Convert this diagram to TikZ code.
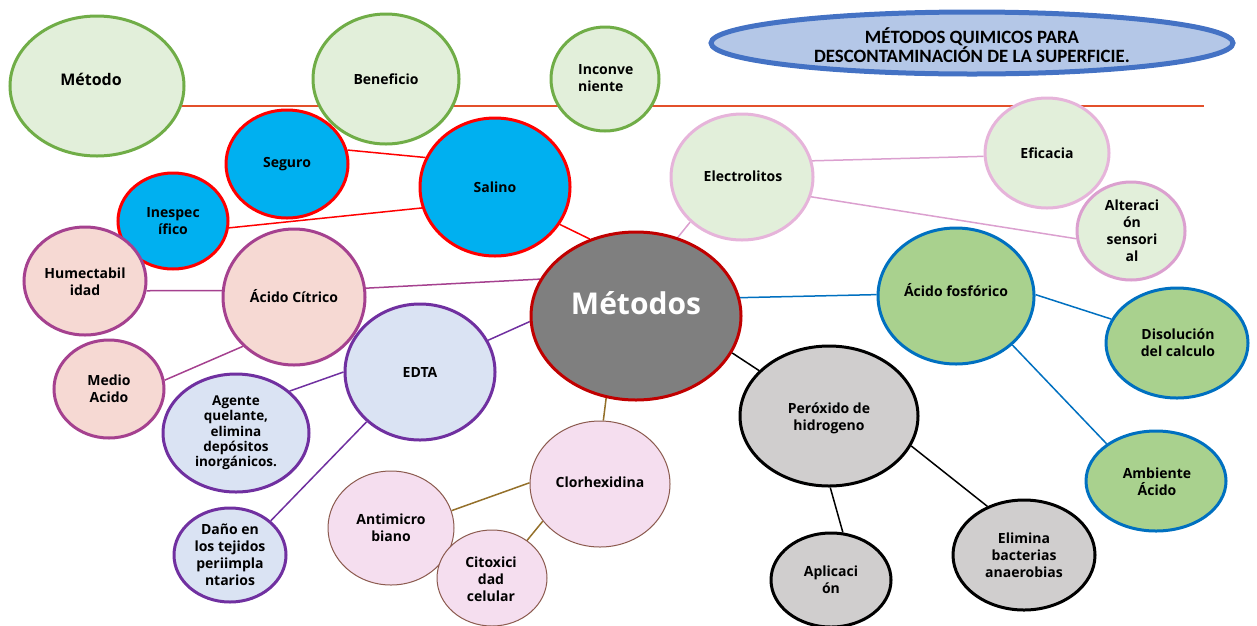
\documentclass[tikz,border=0pt]{standalone}
\usepackage{fontspec}
\setmainfont{Open Sans}
\newfontfamily\titlefont{Carlito}
\newfontfamily\bigfont{Open Sans}
\usetikzlibrary{shapes.geometric}
\pgfdeclarelayer{background}
\pgfsetlayers{background,main}
\definecolor{gfill}{HTML}{E2EFDA}
\definecolor{gline}{HTML}{70AD47}
\definecolor{bfill}{HTML}{00B0F0}
\definecolor{rline}{HTML}{FF0000}
\definecolor{pfill}{HTML}{F6D9D3}
\definecolor{pline}{HTML}{A5418F}
\definecolor{efill}{HTML}{DAE3F3}
\definecolor{eline}{HTML}{7030A0}
\definecolor{cfill}{HTML}{F5DEEF}
\definecolor{cline}{HTML}{8B5A4E}
\definecolor{cconn}{HTML}{94702A}
\definecolor{lpink}{HTML}{E6B4DA}
\definecolor{lpink2}{HTML}{DBA0CF}
\definecolor{ffill}{HTML}{A9D18E}
\definecolor{fline}{HTML}{0070C0}
\definecolor{hfill}{HTML}{D0CECE}
\definecolor{mfill}{HTML}{7F7F7F}
\definecolor{mline}{HTML}{C00000}
\definecolor{tfill}{HTML}{B4C7E7}
\definecolor{tline}{HTML}{4472C4}
\definecolor{orline}{HTML}{E3502B}
\tikzset{
  bub/.style={ellipse, inner sep=0pt, line width=3pt},
  txt/.style={font=\fontsize{14}{17}\selectfont\bfseries, align=center, inner sep=0pt},
  conn/.style={line width=1.5pt},
}
\newcommand{\bubble}[7]{% name, x, y, rx, ry, fill, draw options
  \node[bub, fill=#6, #7, minimum width=#4*2pt, minimum height=#5*2pt] (#1) at (#2,#3) {};}
\begin{document}
\begin{tikzpicture}[x=1pt,y=-1pt]
\useasboundingbox (0,0) rectangle (1257,625);
% top row
\bubble{metodo}{97}{86}{87}{70}{gfill}{draw=gline}
\bubble{beneficio}{386}{79}{73}{65}{gfill}{draw=gline}
\bubble{inconv}{605}{79}{54}{52}{gfill}{draw=gline}
\node[txt, font=\fontsize{16}{17}\selectfont\bfseries] (metodo-t) at (91,79) {Método};
\node[txt] (beneficio-t) at (386,79) {Beneficio};
\node[txt, align=left, anchor=west] (inconv-t) at (578,78) {Inconve\\niente};
% title
\node[ellipse, inner sep=0pt, line width=5pt, draw=tline, fill=tfill, minimum width=522pt, minimum height=62pt] (title) at (972,43) {};
\node[txt, font=\titlefont\fontsize{18.8}{18.5}\selectfont\bfseries] (title-t) at (972,45) {MÉTODOS QUIMICOS PARA\\DESCONTAMINACIÓN DE LA SUPERFICIE.};
\coordinate (lineend) at (1204,105);
% salino group
\bubble{seguro}{287}{164}{61}{54}{bfill}{draw=rline}
\bubble{salino}{495}{187}{75}{69}{bfill}{draw=rline}
\bubble{inesp}{173}{221}{55}{48}{bfill}{draw=rline}
\node[txt] (seguro-t) at (287,164) {Seguro};
\node[txt] (salino-t) at (495,187) {Salino};
\node[txt] (inesp-t) at (173,221) {Inespec\\ífico};
% citrico group
\bubble{humect}{85}{281}{61}{54}{pfill}{draw=pline}
\bubble{citrico}{294}{297}{71}{68}{pfill}{draw=pline}
\bubble{medio}{109}{389}{55}{49}{pfill}{draw=pline}
\node[txt] (humect-t) at (85,282) {Humectabil\\idad};
\node[txt] (citrico-t) at (294,296) {Ácido Cítrico};
\node[txt] (medio-t) at (109,389) {Medio\\Acido};
% edta group
\bubble{edta}{420}{372}{75}{68}{efill}{draw=eline}
\bubble{agente}{236}{433}{73}{59}{efill}{draw=eline}
\bubble{dano}{230}{555}{56}{47}{efill}{draw=eline}
\node[txt] (edta-t) at (420,372) {EDTA};
\node[txt, font=\fontsize{13.5}{15.3}\selectfont\bfseries] (agente-t) at (236,433) {Agente\\quelante,\\elimina\\depósitos\\inorgánicos.};
\node[txt] (dano-t) at (230,555) {Daño en\\los tejidos\\periimpla\\ntarios};
% metodos
\bubble{metodos}{636}{316}{105}{84}{mfill}{draw=mline}
\node[txt, font=\bigfont\fontsize{30}{30}\selectfont\bfseries, text=white] (metodos-t) at (636,303) {Métodos};
% electrolitos group
\bubble{electro}{742}{177}{71}{63}{gfill}{draw=lpink}
\bubble{eficacia}{1047}{153}{62}{55}{gfill}{draw=lpink}
\bubble{alter}{1131}{231}{54}{49}{gfill}{draw=lpink2}
\node[txt] (electro-t) at (743,176) {Electrolitos};
\node[txt] (eficacia-t) at (1047,153) {Eficacia};
\node[txt] (alter-t) at (1132,231) {Alteraci\\ón\\sensori\\al};
% fosforico group
\bubble{fosfo}{956}{296}{78}{68}{ffill}{draw=fline}
\bubble{disol}{1177}{343}{71}{55}{ffill}{draw=fline}
\bubble{ambiente}{1156}{481}{70}{50}{ffill}{draw=fline}
\node[txt] (fosfo-t) at (956,290) {Ácido fosfórico};
\node[txt] (disol-t) at (1178,343) {Disolución\\del calculo};
\node[txt] (ambiente-t) at (1157,482) {Ambiente\\Ácido};
% peroxido group
\bubble{perox}{829}{416}{89}{70}{hfill}{draw=black}
\bubble{aplic}{831}{580}{60}{47}{hfill}{draw=black}
\bubble{elimina}{1024}{555}{71}{55}{hfill}{draw=black}
\node[txt] (perox-t) at (829,418) {Peróxido de\\hidrogeno};
\node[txt] (aplic-t) at (831,580) {Aplicaci\\ón};
\node[txt] (elimina-t) at (1024,555) {Elimina\\bacterias\\anaerobias};
% clorhexidina group
\bubble{clorh}{600}{484}{70}{63}{cfill}{draw=cline, line width=1pt}
\bubble{antimic}{391}{528}{63}{57}{cfill}{draw=cline, line width=1pt}
\bubble{citox}{492}{578}{55}{48}{cfill}{draw=cline, line width=1pt}
\node[txt] (clorh-t) at (600,482) {Clorhexidina};
\node[txt] (antimic-t) at (391,528) {Antimicro\\biano};
\node[txt] (citox-t) at (491,579) {Citoxici\\dad\\celular};
\begin{pgfonlayer}{background}
\draw[orline, line width=2pt] (metodo.-13.5) -- (metodo.-13.5 -| lineend);
\draw[conn, rline] (seguro.13) -- (salino.157);
\draw[conn, rline] (inesp.-7) -- (salino.196);
\draw[conn, rline] (salino.-30.6) -- (metodos.121);
\draw[conn, pline] (humect.-9.5) -- (citrico.175);
\draw[conn, pline] (citrico.7) -- (metodos.159);
\draw[conn, pline] (medio.9) -- (citrico.224);
\draw[conn, eline] (edta.25.5) -- (metodos.183);
\draw[conn, eline] (agente.38) -- (edta.180);
\draw[conn, eline] (dano.40.5) -- (edta.223);
\draw[conn, cconn] (metodos.250) -- (clorh.87);
\draw[conn, cconn] (antimic.16.5) -- (clorh.179);
\draw[conn, cconn] (citox.47) -- (clorh.213);
\draw[conn, black] (metodos.-21) -- (perox.147);
\draw[conn, black] (perox.-89) -- (aplic.76);
\draw[conn, black] (perox.-20.5) -- (elimina.127);
\draw[conn, fline] (metodos.10) -- (fosfo.179);
\draw[conn, fline] (fosfo.1) -- (disol.160);
\draw[conn, fline] (fosfo.-41) -- (ambiente.143);
\draw[conn, lpink2] (metodos.62) -- (electro.221);
\draw[conn, lpink2] (electro.13.5) -- (eficacia.183);
\draw[conn, lpink2] (electro.-16) -- (alter.188);
\end{pgfonlayer}
\end{tikzpicture}
\end{document}
